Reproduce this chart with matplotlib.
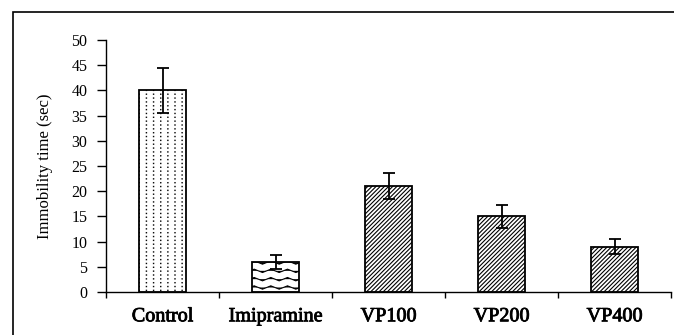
import numpy as np
import matplotlib
matplotlib.use("Agg")
import matplotlib.pyplot as plt
import matplotlib.hatch as mhatch
import matplotlib.patheffects as pe
from matplotlib.path import Path
from matplotlib.patches import Rectangle
import warnings

warnings.filterwarnings("ignore")

categories = ["Control", "Imipramine", "VP100", "VP200", "VP400"]
values = [40, 6, 21, 15, 9]
errors = [4.4, 1.4, 2.6, 2.3, 1.5]
yticks = [0, 5, 10, 15, 20, 25, 30, 35, 40, 45, 50]
ylabel = "Immobility time (sec)"


class WaveHatch(mhatch.HatchPatternBase):
    """Horizontal wavy lines hatch, triggered by '~'."""
    def __init__(self, hatch, density):
        self.num_rows = hatch.count('~') * 2 * density
        self.npts = 25
        self.num_vertices = self.num_rows * self.npts if self.num_rows else 0

    def set_vertices_and_codes(self, vertices, codes):
        n = self.num_rows
        xs = np.linspace(0, 1, self.npts)
        amp = 0.2 / n
        k = 0
        for i in range(n):
            y0 = (i + 0.5) / n
            ys = y0 + amp * np.sin(2 * np.pi * 6 * xs)
            vertices[k:k + self.npts, 0] = xs
            vertices[k:k + self.npts, 1] = ys
            codes[k] = Path.MOVETO
            codes[k + 1:k + self.npts] = Path.LINETO
            k += self.npts


class DotHatch(mhatch.HatchPatternBase):
    """Tiny dots on a rectangular grid, triggered by ':'."""
    def __init__(self, hatch, density):
        c = hatch.count(':')
        self.ncols = 14 * c
        self.nrows = 26 * c
        self.num_vertices = self.ncols * self.nrows * 5 if c else 0

    def set_vertices_and_codes(self, vertices, codes):
        s = 0.0015
        k = 0
        for j in range(self.nrows):
            y = (j + 0.5) / self.nrows
            for i in range(self.ncols):
                x = (i + 0.5) / self.ncols
                vertices[k:k + 5] = [(x - s, y - s), (x + s, y - s),
                                     (x + s, y + s), (x - s, y + s),
                                     (x - s, y - s)]
                codes[k] = Path.MOVETO
                codes[k + 1:k + 4] = Path.LINETO
                codes[k + 4] = Path.CLOSEPOLY
                k += 5


mhatch._hatch_types.append(WaveHatch)
mhatch._hatch_types.append(DotHatch)

plt.rcParams['font.family'] = ['Liberation Serif', 'DejaVu Serif']
plt.rcParams['hatch.linewidth'] = 0.8

fig = plt.figure(figsize=(6.74, 3.35), dpi=100)
ax = fig.add_axes([106 / 674, 43 / 335, 565 / 674, 252 / 335])

hatches = [':', '~', '////////', '////////', '////////']
x = np.arange(len(categories))
bars = ax.bar(x, values, width=0.42, color='white', edgecolor='black',
              linewidth=1.3)
for b, h in zip(bars, hatches):
    b.set_hatch(h)
ax.errorbar(x, values, yerr=errors, fmt='none', ecolor='black',
            elinewidth=1.3, capsize=4, capthick=1.3)

ax.set_xlim(-0.5, len(categories) - 0.5)
ax.set_ylim(0, 50)
ax.set_yticks(yticks)
ax.set_yticklabels([str(v) for v in yticks], fontsize=11.5)
ax.set_xticks(x)
ax.set_xticklabels(categories, fontsize=14.5)
for t in ax.get_xticklabels():
    t.set_path_effects([pe.withStroke(linewidth=0.6, foreground='black')])
ax.set_xticks(np.arange(-0.5, len(categories)), minor=True)
ax.tick_params(axis='x', which='major', length=0, pad=11)
ax.tick_params(axis='x', which='minor', length=4, width=1, direction='out')
ax.tick_params(axis='y', length=6.5, width=1, direction='out', pad=7)
ax.set_ylabel(ylabel, fontsize=12, labelpad=13)

for s in ['top', 'right']:
    ax.spines[s].set_visible(False)
for s in ['left', 'bottom']:
    ax.spines[s].set_linewidth(1.0)

# outer frame
fig.patches.append(Rectangle((12.7 / 674, -0.1), 1.2, 1.1 - 12.5 / 335,
                             transform=fig.transFigure, fill=False,
                             edgecolor='black', linewidth=1.2))

fig.savefig("out.png", dpi=100)
